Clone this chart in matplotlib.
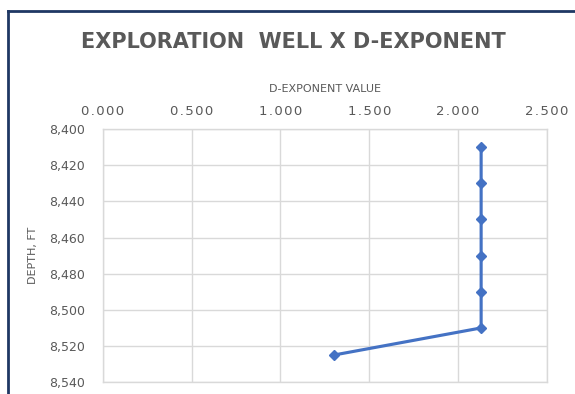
import matplotlib.pyplot as plt
from matplotlib.lines import Line2D
from matplotlib.ticker import FuncFormatter

# d-exponent readings by depth
depth_ft = [8410, 8430, 8450, 8470, 8490, 8510, 8525]
d_exponent = [2.13, 2.13, 2.13, 2.13, 2.13, 2.13, 1.30]

x_ticks = [0.0, 0.5, 1.0, 1.5, 2.0, 2.5]
y_ticks = [8400, 8420, 8440, 8460, 8480, 8500, 8520, 8540]

grey = '#595959'
grid_col = '#D9D9D9'


def spaced(s):
    # widen the tick text a little with hair spaces between characters
    return '\u200a'.join(s)


fig = plt.figure(figsize=(5.75, 3.94), dpi=100)
ax = fig.add_axes([0.179, 0.030, 0.772, 0.6426])

ax.plot(d_exponent, depth_ft, color='#4472C4', linewidth=2.25,
        marker='D', markersize=5.5, zorder=3)

ax.set_xlim(0, 2.5)
ax.set_ylim(8540, 8400)
ax.set_xticks(x_ticks)
ax.set_yticks(y_ticks)
ax.xaxis.tick_top()
ax.xaxis.set_label_position('top')
ax.xaxis.set_major_formatter(FuncFormatter(lambda v, p: spaced(f'{v:.3f}')))
ax.yaxis.set_major_formatter(FuncFormatter(lambda v, p: f'{v:,.0f}'))
ax.tick_params(axis='x', length=0, pad=8, labelsize=9.5, labelcolor=grey)
ax.tick_params(axis='y', length=0, pad=13, labelsize=9, labelcolor=grey)

ax.grid(True, color=grid_col, linewidth=1)
for s in ax.spines.values():
    s.set_color(grid_col)
    s.set_linewidth(1)

ax.set_xlabel('D-EXPONENT VALUE', fontsize=8, color=grey, labelpad=9)
ax.set_ylabel('DEPTH, FT', fontsize=8, color=grey)
ax.yaxis.set_label_coords(-0.146, 0.5)

fig.text(0.51, 0.893, 'EXPLORATION  WELL X D-EXPONENT', ha='center', va='center',
         fontsize=15, fontweight='bold', color=grey)

# chart border (top and left edges)
fig.add_artist(Line2D([0.014, 1.0], [0.972, 0.972], color='#1F3864', linewidth=2))
fig.add_artist(Line2D([0.014, 0.014], [0.0, 0.972], color='#1F3864', linewidth=2))

fig.savefig('out.png', dpi=100)
